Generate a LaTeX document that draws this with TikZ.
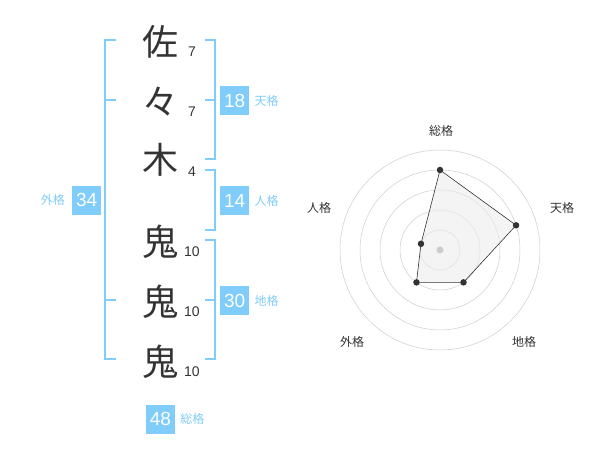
\documentclass[tikz,border=0pt]{standalone}
\usepackage{fontspec}
\setmainfont{Liberation Sans}
\newfontfamily\jpfont{Noto Sans CJK JP}
\usetikzlibrary{positioning}
\definecolor{kakublue}{RGB}{128,204,250}
\definecolor{inkgray}{RGB}{51,51,51}

\begin{document}
\begin{tikzpicture}[
						x=1pt, y=-1pt,
						kanji/.style = {text=inkgray, inner sep=0pt, font=\jpfont\fontsize{36}{36}\selectfont},
						strokes/.style = {text=inkgray, inner sep=0pt, font=\fontsize{14}{14}\selectfont},
						kakubox/.style = {fill=kakublue, text=white, minimum size=29pt, inner sep=0pt, font=\fontsize{19}{19}\selectfont},
						kakulabel/.style = {text=kakublue, inner sep=0pt, font=\jpfont\fontsize{12}{12}\selectfont},
						bracket/.style = {draw=kakublue, line width=1.5pt},
						ring/.style = {draw=gray!40, line width=0.5pt},
						axislabel/.style = {text=inkgray, inner sep=0pt, font=\jpfont\fontsize{12}{12}\selectfont},
						dot/.style = {circle, fill=inkgray, inner sep=0pt, minimum size=6.5pt}
					]
\useasboundingbox (0,0) rectangle (600,470);

\node[kanji] (sa) at (160,42) {佐};
\node[kanji] (sa2) at (160,102) {々};
\node[kanji] (ki) at (160,160) {木};
\node[kanji] (oni1) at (160,242) {鬼};
\node[kanji] (oni2) at (160,302) {鬼};
\node[kanji] (oni3) at (160,362) {鬼};

\node[strokes] (n1) at (192,52) {7};
\node[strokes] (n2) at (192,112) {7};
\node[strokes] (n3) at (192,172) {4};
\node[strokes] (n4) at (192,252) {10};
\node[strokes] (n5) at (192,312) {10};
\node[strokes] (n6) at (192,372) {10};

\node[kakubox] (ten) at (234.7,100.5) {18};
\node[kakubox] (jin) at (234.7,200.5) {14};
\node[kakubox] (chi) at (234.7,300.5) {30};
\node[kakubox] (gai) at (86.7,200.2) {34};
\node[kakubox] (sou) at (160.5,419) {48};
\node[kakulabel] [right=5pt of ten] {天格};
\node[kakulabel] [right=5pt of jin] {人格};
\node[kakulabel] [right=5pt of chi] {地格};
\node[kakulabel] [left=7pt of gai] {外格};
\node[kakulabel] [right=5pt of sou] {総格};

\draw[bracket] (116,40) -- (105,40) -- (105,359) -- (116,359);
\draw[bracket] (105,100) -- (116,100);
\draw[bracket] (105,300) -- (116,300);
\draw[bracket] (205,40) -- (215,40) -- (215,159) -- (205,159);
\draw[bracket] (205,100) -- (215,100);
\draw[bracket] (205,170) -- (215,170) -- (215,230) -- (205,230);
\draw[bracket] (205,240) -- (215,240) -- (215,359) -- (205,359);
\draw[bracket] (205,300) -- (215,300);

\begin{scope}[shift={(440,250)}, yscale=-1]
\foreach \r in {20,40,...,100}
	\draw[ring] (0,0) circle (\r);
\coordinate (psou) at (90:80);
\coordinate (pten) at (18:80);
\coordinate (pchi) at (-54:40);
\coordinate (pgai) at (234:40);
\coordinate (pjin) at (162:20);
\draw[fill=gray!15, fill opacity=0.6, draw=inkgray, line width=0.6pt] (psou) -- (pten) -- (pchi) -- (pgai) -- (pjin) -- cycle;
\fill[gray!40] (0,0) circle (3.5);
\foreach \p in {psou, pten, pchi, pgai, pjin}
	\node[dot] at (\p) {};
\node[axislabel] (lsou) at (1,119) {総格};
\node[axislabel] (lten) at (122,42) {天格};
\node[axislabel] (lchi) at (84,-92) {地格};
\node[axislabel] (lgai) at (-88,-92) {外格};
\node[axislabel] (ljin) at (-121,42) {人格};
\end{scope}
\end{tikzpicture}
\end{document}
